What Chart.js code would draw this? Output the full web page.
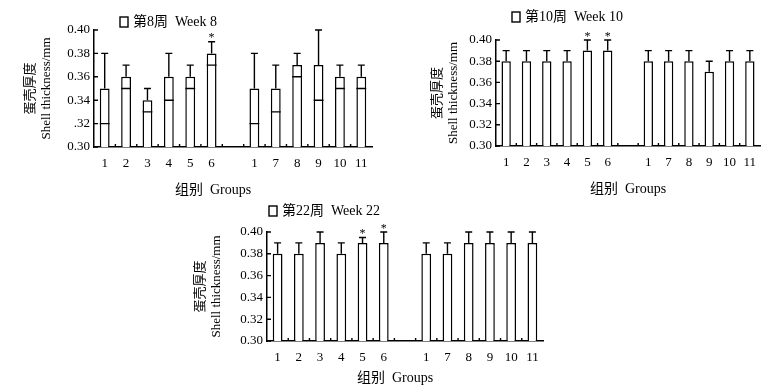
<!DOCTYPE html>
<html>
<head>
<meta charset="utf-8">
<script src="https://cdn.jsdelivr.net/npm/chart.js@4/dist/chart.umd.min.js"></script>
<style>
  body { margin: 0; background: #fff; width: 783px; height: 392px; position: relative; overflow: hidden; }
  .panel { position: absolute; }
</style>
</head>
<body>
<div class="panel" style="left:0;top:0;width:390px;height:200px"><canvas id="week8"></canvas></div>
<div class="panel" style="left:390px;top:0;width:393px;height:200px"><canvas id="week10"></canvas></div>
<div class="panel" style="left:180px;top:195px;width:400px;height:197px"><canvas id="week22"></canvas></div>
<script>
const groupLabels = ['1', '2', '3', '4', '5', '6', '', '1', '7', '8', '9', '10', '11'];

const week8Means  = [0.35, 0.36, 0.34, 0.36, 0.36, 0.38, null, 0.35, 0.35, 0.37, 0.37, 0.36, 0.36];
const week8Errors = [0.03, 0.01, 0.01, 0.02, 0.01, 0.01, null, 0.03, 0.02, 0.01, 0.03, 0.01, 0.01];
const week8Stars  = [5];

const week10Means  = [0.38, 0.38, 0.38, 0.38, 0.39, 0.39, null, 0.38, 0.38, 0.38, 0.37, 0.38, 0.38];
const week10Errors = [0.01, 0.01, 0.01, 0.01, 0.01, 0.01, null, 0.01, 0.01, 0.01, 0.01, 0.01, 0.01];
const week10Stars  = [4, 5];

const week22Means  = [0.38, 0.38, 0.39, 0.38, 0.39, 0.39, null, 0.38, 0.38, 0.39, 0.39, 0.39, 0.39];
const week22Errors = [0.01, 0.01, 0.01, 0.01, 0.005, 0.01, null, 0.01, 0.01, 0.01, 0.01, 0.01, 0.01];
const week22Stars  = [4, 5];

const yTickLabels8 = ['0.30', '.32', '0.34', '0.36', '0.38', '0.40'];
const yTickLabels  = ['0.30', '0.32', '0.34', '0.36', '0.38', '0.40'];

const SERIF = '"Liberation Serif", "Noto Sans CJK SC", serif';

// error bars, stars, inner ticks, legend and x title
const decor = {
  id: 'decor',
  afterDatasetsDraw(chart, args, opts) {
    const ctx = chart.ctx;
    const meta = chart.getDatasetMeta(0);
    const x = chart.scales.x, y = chart.scales.y;
    const { left, bottom } = chart.chartArea;
    ctx.save();
    ctx.strokeStyle = '#000';
    ctx.fillStyle = '#000';
    ctx.lineWidth = 1.4;

    meta.data.forEach((bar, i) => {
      const v = opts.means[i];
      if (v == null) return;
      const e = opts.errors[i];
      const yBar = y.getPixelForValue(v);
      const yTop = y.getPixelForValue(v + e);
      ctx.beginPath();
      ctx.moveTo(bar.x, yBar);
      ctx.lineTo(bar.x, yTop);
      ctx.moveTo(bar.x - 3.5, yTop);
      ctx.lineTo(bar.x + 3.5, yTop);
      if (opts.lowerCaps) {
        const yLow = y.getPixelForValue(v - e);
        ctx.moveTo(bar.x - bar.width / 2, yLow);
        ctx.lineTo(bar.x + bar.width / 2, yLow);
      }
      ctx.stroke();
      if (opts.stars.includes(i)) {
        ctx.font = '12px ' + SERIF;
        ctx.textAlign = 'center';
        ctx.textBaseline = 'alphabetic';
        ctx.fillText('*', bar.x, yTop - 0.5);
      }
    });

    // short ticks pointing inward
    ctx.beginPath();
    y.ticks.forEach(t => {
      const py = y.getPixelForValue(t.value);
      ctx.moveTo(left, py);
      ctx.lineTo(left + 4, py);
    });
    const n = groupLabels.length;
    for (let i = 1; i < n; i++) {
      const px = (x.getPixelForValue(i - 1) + x.getPixelForValue(i)) / 2;
      ctx.moveTo(px, bottom);
      ctx.lineTo(px, bottom - 3);
    }
    ctx.stroke();

    // legend
    const lg = opts.legend;
    ctx.lineWidth = 1.4;
    ctx.fillStyle = '#fff';
    ctx.fillRect(lg.x, lg.y - 5, 8, 10);
    ctx.strokeRect(lg.x, lg.y - 5, 8, 10);
    ctx.fillStyle = '#000';
    ctx.font = '14px ' + SERIF;
    ctx.textAlign = 'left';
    ctx.textBaseline = 'middle';
    ctx.fillText(lg.text, lg.x + 13, lg.y);

    // x axis title
    ctx.textAlign = 'center';
    ctx.fillText('组别  Groups', opts.xTitle.x, opts.xTitle.y);
    ctx.restore();
  }
};

function makeChart(id, p) {
  return new Chart(document.getElementById(id), {
    type: 'bar',
    data: {
      labels: groupLabels,
      datasets: [{
        data: p.means,
        backgroundColor: '#fff',
        borderColor: '#000',
        borderWidth: 1.5,
        barPercentage: 0.46,
        categoryPercentage: 1
      }]
    },
    options: {
      responsive: true,
      maintainAspectRatio: false,
      animation: false,
      layout: { padding: { top: p.top, right: p.right, bottom: 0, left: 0 } },
      plugins: {
        legend: { display: false },
        tooltip: { enabled: false },
        decor: {
          means: p.means,
          errors: p.errors,
          stars: p.stars,
          lowerCaps: p.lowerCaps,
          legend: p.legend,
          xTitle: p.xTitle
        }
      },
      scales: {
        x: {
          offset: true,
          grid: { drawOnChartArea: false, drawTicks: false },
          border: { display: true, color: '#000', width: 1.5 },
          ticks: {
            color: '#000',
            padding: 9,
            autoSkip: false,
            maxRotation: 0,
            font: { family: SERIF, size: 13 }
          },
          afterFit: s => { s.height = p.xHeight; }
        },
        y: {
          min: 0.30,
          max: 0.40,
          grid: { drawOnChartArea: false, drawTicks: false },
          border: { display: true, color: '#000', width: 1.5 },
          ticks: {
            stepSize: 0.02,
            color: '#000',
            padding: 4,
            font: { family: SERIF, size: 13 },
            callback: (v, i) => p.yLabels[i]
          },
          title: {
            display: true,
            text: ['蛋壳厚度', 'Shell thickness/mm'],
            color: '#000',
            font: { family: SERIF, size: 13, lineHeight: 1.2 },
            padding: { top: p.yTitlePad, bottom: 0 }
          },
          afterFit: s => { s.width = p.yWidth; }
        }
      }
    },
    plugins: [decor]
  });
}

makeChart('week8', {
  means: week8Means, errors: week8Errors, stars: week8Stars, lowerCaps: true,
  yLabels: yTickLabels8,
  top: 30, right: 18, yWidth: 94, xHeight: 53, yTitlePad: 23,
  legend: { x: 120, y: 22, text: '第8周  Week 8' },
  xTitle: { x: 213, y: 190 }
});

makeChart('week10', {
  means: week10Means, errors: week10Errors, stars: week10Stars, lowerCaps: false,
  yLabels: yTickLabels,
  top: 40, right: 23, yWidth: 106, xHeight: 54, yTitlePad: 40,
  legend: { x: 122, y: 17, text: '第10周  Week 10' },
  xTitle: { x: 238, y: 189 }
});

makeChart('week22', {
  means: week22Means, errors: week22Errors, stars: week22Stars, lowerCaps: false,
  yLabels: yTickLabels,
  top: 37, right: 37, yWidth: 87, xHeight: 51, yTitlePad: 13,
  legend: { x: 89, y: 16, text: '第22周  Week 22' },
  xTitle: { x: 215, y: 183 }
});
</script>
</body>
</html>
